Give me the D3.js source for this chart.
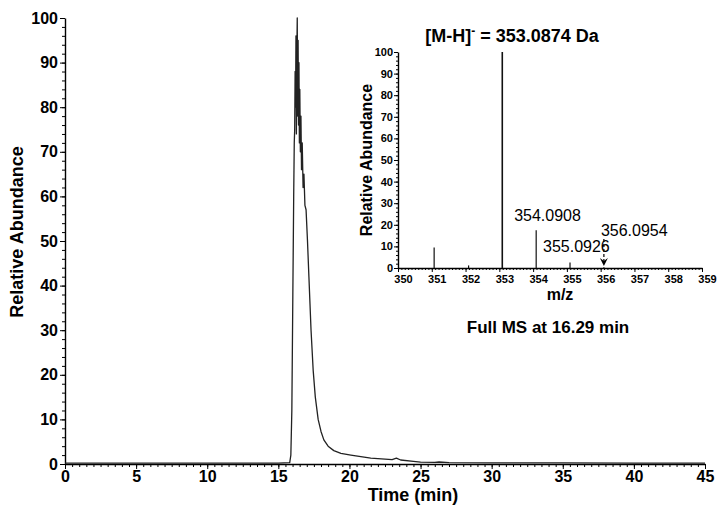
<!DOCTYPE html>
<html>
<head>
<meta charset="utf-8">
<script src="https://cdn.jsdelivr.net/npm/d3@7"></script>
<style>
  body { margin: 0; background: #fff; }
  svg { font-family: "Liberation Sans", Arial, sans-serif; }
  .domain { stroke: #000; stroke-width: 1.4; }
  .tick line { stroke: #000; stroke-width: 1; }
</style>
</head>
<body>
<div id="chart"></div>
<script>
// chromatogram (time in min, relative abundance)
var chromTime = [0, 5, 10, 15, 15.8, 15.88, 15.95, 16.02, 16.08, 16.12, 16.15, 16.18, 16.21, 16.24, 16.27, 16.3, 16.33, 16.36, 16.39, 16.42, 16.45, 16.48, 16.51, 16.55, 16.59, 16.63, 16.68, 16.74, 16.8, 16.87, 16.95, 17.05, 17.15, 17.3, 17.45, 17.6, 17.8, 18.0, 18.2, 18.5, 18.9, 19.4, 20.1, 21.5, 23.0, 23.3, 23.6, 24.5, 25.0, 26.0, 26.3, 27, 30, 35, 40, 45];
var chromAbund = [0.2, 0.2, 0.2, 0.2, 0.3, 2, 12, 38, 60, 72, 75, 88, 80, 96, 74, 92, 100, 78, 95, 76, 90, 72, 84, 70, 78, 66, 72, 62, 65, 58, 57, 50, 42, 30, 21, 15, 10, 7.3, 5.4, 4, 3, 2.4, 2, 1.3, 1.0, 1.3, 0.9, 0.6, 0.4, 0.35, 0.45, 0.3, 0.25, 0.25, 0.2, 0.2];
var timeTicks = [0, 5, 10, 15, 20, 25, 30, 35, 40, 45];
var abundTicks = [0, 10, 20, 30, 40, 50, 60, 70, 80, 90, 100];

// full MS spectrum at 16.29 min
var msMz = [351.07, 352.09, 353.0874, 354.0908, 355.0926, 356.0954];
var msInt = [9.5, 1.2, 100, 17.5, 2.5, 0.4];
var msLabels = ["", "", "", "354.0908", "355.0926", "356.0954"];
var mzTicks = [350, 351, 352, 353, 354, 355, 356, 357, 358, 359];

var svgwidth = 726, svgheight = 510;
var svg = d3.select("#chart").append("svg")
    .attr("width", svgwidth)
    .attr("height", svgheight);

// main scales
var xscale = d3.scaleLinear().domain([0, 45]).range([65, 705]);
var yscale = d3.scaleLinear().domain([0, 100]).range([464, 18]);

// minor ticks first, then major
svg.append("g")
   .attr("transform", "translate(0," + yscale(0) + ")")
   .call(d3.axisBottom(xscale).tickValues(d3.range(0, 45.01, 0.5)).tickSize(3).tickFormat(""))
   .call(function (g) { g.select(".domain").remove(); });
svg.append("g")
   .attr("transform", "translate(0," + yscale(0) + ")")
   .style("font", "bold 16px 'Liberation Sans', Arial")
   .call(d3.axisBottom(xscale).tickValues(timeTicks).tickSize(5).tickPadding(2).tickSizeOuter(0));

svg.append("g")
   .attr("transform", "translate(" + xscale(0) + ",0)")
   .call(d3.axisLeft(yscale).tickValues(d3.range(0, 100.1, 2)).tickSize(3).tickFormat(""))
   .call(function (g) { g.select(".domain").remove(); });
svg.append("g")
   .attr("transform", "translate(" + xscale(0) + ",0)")
   .style("font", "bold 16px 'Liberation Sans', Arial")
   .call(d3.axisLeft(yscale).tickValues(abundTicks).tickSize(5).tickPadding(2).tickSizeOuter(0));

svg.selectAll(".tick text").attr("fill", "#000");

// axis titles
svg.append("text")
   .attr("transform", "translate(23,232) rotate(-90)")
   .attr("text-anchor", "middle")
   .style("font", "bold 18px 'Liberation Sans', Arial")
   .text("Relative Abundance");
svg.append("text")
   .attr("x", 413).attr("y", 501)
   .attr("text-anchor", "middle")
   .style("font", "bold 18px 'Liberation Sans', Arial")
   .text("Time (min)");

// chromatogram trace
var chromData = chromTime.map(function (t, i) { return [t, chromAbund[i]]; });
var line = d3.line()
    .x(function (d) { return xscale(d[0]); })
    .y(function (d) { return yscale(d[1]); });
svg.append("path")
   .datum(chromData)
   .attr("d", line)
   .attr("fill", "none")
   .attr("stroke", "#222")
   .attr("stroke-width", 1.3)
   .attr("stroke-linejoin", "round");

// inset spectrum
var xi = d3.scaleLinear().domain([350, 359]).range([398, 702]);
var yi = d3.scaleLinear().domain([0, 100]).range([268, 52]);

var inset = svg.append("g");
inset.append("g")
     .attr("transform", "translate(0," + yi(0) + ")")
     .call(d3.axisBottom(xi).tickValues(d3.range(350, 359.01, 0.1)).tickSize(2).tickFormat(""))
     .call(function (g) { g.select(".domain").remove(); });
inset.append("g")
     .attr("transform", "translate(0," + yi(0) + ")")
     .style("font", "bold 11px 'Liberation Sans', Arial")
     .call(d3.axisBottom(xi).tickValues(mzTicks).tickSize(4).tickPadding(3).tickSizeOuter(0))
     .call(function (g) { g.selectAll(".tick text").attr("dx", 5); });
inset.append("g")
     .attr("transform", "translate(" + xi(350) + ",0)")
     .call(d3.axisLeft(yi).tickValues(d3.range(0, 100.1, 2)).tickSize(2).tickFormat(""))
     .call(function (g) { g.select(".domain").remove(); });
inset.append("g")
     .attr("transform", "translate(" + xi(350) + ",0)")
     .style("font", "bold 11px 'Liberation Sans', Arial")
     .call(d3.axisLeft(yi).tickValues(abundTicks).tickSize(4).tickPadding(1).tickSizeOuter(0));
inset.selectAll(".domain").attr("stroke-width", 1.2);
inset.selectAll(".tick text").attr("fill", "#000");

inset.append("text")
     .attr("transform", "translate(372,160) rotate(-90)")
     .attr("text-anchor", "middle")
     .style("font", "bold 16px 'Liberation Sans', Arial")
     .text("Relative Abundance");
inset.append("text")
     .attr("x", 560).attr("y", 300)
     .attr("text-anchor", "middle")
     .style("font", "bold 16px 'Liberation Sans', Arial")
     .text("m/z");

inset.selectAll("line.stick")
     .data(msMz)
     .enter()
     .append("line")
     .attr("class", "stick")
     .attr("x1", function (d) { return xi(d); })
     .attr("x2", function (d) { return xi(d); })
     .attr("y1", yi(0))
     .attr("y2", function (d, i) { return yi(msInt[i]); })
     .attr("stroke", "#111")
     .attr("stroke-width", function (d, i) { return msInt[i] > 50 ? 1.6 : 1.2; });

// peak labels
var labelPos = { "354.0908": [-22, -47], "355.0926": [-27, -16], "356.0954": [-3, -32] };
inset.selectAll("text.peak")
     .data(msMz.filter(function (d, i) { return msLabels[i] !== ""; }))
     .enter()
     .append("text")
     .attr("class", "peak")
     .attr("x", function (d) { return xi(d) + labelPos[d.toFixed(4)][0]; })
     .attr("y", function (d) { return yi(0) + labelPos[d.toFixed(4)][1]; })
     .style("font", "16px 'Liberation Sans', Arial")
     .text(function (d) { return d.toFixed(4); });

// dashed arrow to the 356 peak
var ax = xi(msMz[5]);
inset.append("line")
     .attr("x1", ax).attr("x2", ax)
     .attr("y1", 239).attr("y2", 262)
     .attr("stroke", "#000")
     .attr("stroke-width", 1.2)
     .attr("stroke-dasharray", "3,2");
inset.append("path")
     .attr("d", "M" + (ax - 4) + ",258 L" + ax + ",266 L" + (ax + 4) + ",258 L" + ax + ",261 Z")
     .attr("fill", "#000");

// titles
var title = inset.append("text")
     .attr("x", 512).attr("y", 42)
     .attr("text-anchor", "middle")
     .style("font", "bold 18px 'Liberation Sans', Arial");
title.append("tspan").text("[M-H]");
title.append("tspan").attr("dy", -7).style("font-size", "12px").text("-");
title.append("tspan").attr("dy", 7).text(" = 353.0874 Da");

svg.append("text")
   .attr("x", 548).attr("y", 333)
   .attr("text-anchor", "middle")
   .style("font", "bold 17px 'Liberation Sans', Arial")
   .text("Full MS at 16.29 min");
</script>
</body>
</html>
